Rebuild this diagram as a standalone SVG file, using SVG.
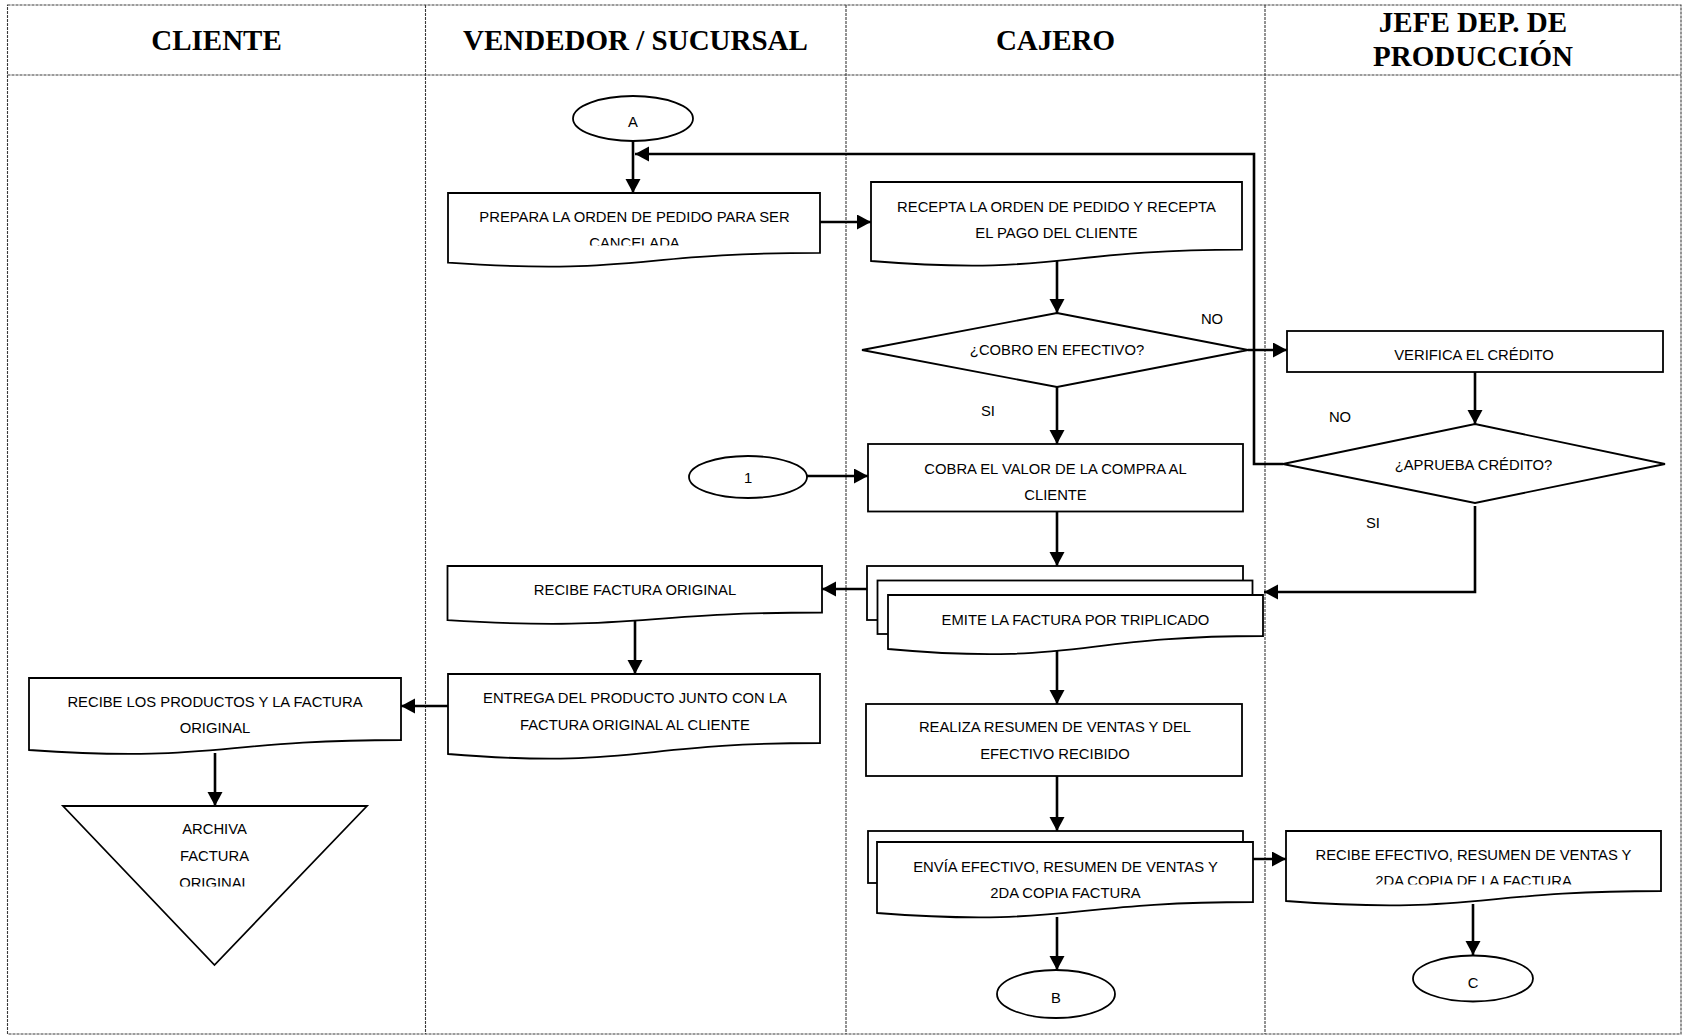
<svg xmlns="http://www.w3.org/2000/svg" width="1685" height="1036" viewBox="0 0 1685 1036">
  <style>
    .lane { fill: none; stroke: #3a3a3a; stroke-width: 1.1; stroke-dasharray: 3 1; }
    .hdr { font-family: "Liberation Serif", "Times New Roman", serif; font-weight: bold; font-size: 29px; fill: #000; text-anchor: middle; }
    .shape { fill: #fff; stroke: #000; stroke-width: 1.8; }
    .txt { font-family: "Liberation Sans", Arial, sans-serif; font-size: 14.8px; fill: #000; text-anchor: middle; }
    .lbl { font-family: "Liberation Sans", Arial, sans-serif; font-size: 14.8px; fill: #000; text-anchor: middle; }
    .conn { fill: none; stroke: #000; stroke-width: 2.6; }
    .arrow { marker-end: url(#head); }
  </style>
  <defs>
    <marker id="head" markerUnits="userSpaceOnUse" markerWidth="15" markerHeight="16" refX="14" refY="7.5" orient="auto">
      <path d="M0,0 L14,7.5 L0,15 Z" fill="#000"/>
    </marker>
    <clipPath id="clipPrepara"><rect x="448" y="193" width="372" height="52.5"/></clipPath>
    <clipPath id="clipArchiva"><rect x="60" y="806" width="310" height="80.5"/></clipPath>
    <clipPath id="clipRecibeEf"><rect x="1286" y="831" width="375" height="53.5"/></clipPath>
  </defs>

  <rect width="1685" height="1036" fill="#fff"/>

  <!-- swimlane table -->
  <g id="lanes">
    <rect class="lane" x="7.5" y="5" width="1673.5" height="1029"/>
    <line class="lane" x1="7.5" y1="75" x2="1681" y2="75"/>
    <line class="lane" x1="425.5" y1="5" x2="425.5" y2="1034"/>
    <line class="lane" x1="846" y1="5" x2="846" y2="1034"/>
    <line class="lane" x1="1265" y1="5" x2="1265" y2="1034"/>
    <text class="hdr" x="216.5" y="50">CLIENTE</text>
    <text class="hdr" x="635.5" y="50">VENDEDOR / SUCURSAL</text>
    <text class="hdr" x="1055.5" y="50">CAJERO</text>
    <text class="hdr" x="1473" y="32">JEFE DEP. DE</text>
    <text class="hdr" x="1473" y="66">PRODUCCIÓN</text>
  </g>

  <!-- connectors -->
  <g id="connectors">
    <line class="conn arrow" x1="633" y1="141" x2="633" y2="193"/>
    <line class="conn arrow" x1="820" y1="222" x2="871" y2="222"/>
    <line class="conn arrow" x1="1057" y1="261" x2="1057" y2="313"/>
    <line class="conn arrow" x1="1248" y1="350" x2="1287" y2="350"/>
    <line class="conn arrow" x1="1475" y1="372" x2="1475" y2="424"/>
    <polyline class="conn arrow" points="1283,464 1254,464 1254,154 635,154"/>
    <polyline class="conn arrow" points="1475,506 1475,592 1264,592"/>
    <line class="conn arrow" x1="1057" y1="387" x2="1057" y2="444"/>
    <line class="conn arrow" x1="807" y1="476" x2="868" y2="476"/>
    <line class="conn arrow" x1="1057" y1="512" x2="1057" y2="566"/>
    <line class="conn arrow" x1="867" y1="589" x2="822" y2="589"/>
    <line class="conn arrow" x1="635" y1="620" x2="635" y2="674"/>
    <line class="conn arrow" x1="448" y1="706" x2="401" y2="706"/>
    <line class="conn arrow" x1="215" y1="753" x2="215" y2="806"/>
    <line class="conn arrow" x1="1057" y1="651" x2="1057" y2="704"/>
    <line class="conn arrow" x1="1057" y1="776" x2="1057" y2="831"/>
    <line class="conn arrow" x1="1253" y1="859" x2="1286" y2="859"/>
    <line class="conn arrow" x1="1057" y1="917" x2="1057" y2="970"/>
    <line class="conn arrow" x1="1473" y1="904" x2="1473" y2="955"/>
    <text class="lbl" x="1212" y="324">NO</text>
    <text class="lbl" x="988" y="416">SI</text>
    <text class="lbl" x="1340" y="422">NO</text>
    <text class="lbl" x="1373" y="528">SI</text>
  </g>

  <!-- VENDEDOR / SUCURSAL lane -->
  <g id="node-a">
    <ellipse class="shape" cx="633" cy="118.5" rx="60" ry="22.5"/>
    <text class="txt" x="633" y="127">A</text>
  </g>
  <g id="node-prepara">
    <path class="shape" d="M448,193 H820 V252.8 C634,252.8 634,275.6 448,262.7 Z"/>
    <g clip-path="url(#clipPrepara)">
      <text class="txt" x="634.5" y="221.5">PREPARA LA ORDEN DE PEDIDO PARA SER</text>
      <text class="txt" x="634.5" y="247.5">CANCELADA</text>
    </g>
  </g>
  <g id="node-1">
    <ellipse class="shape" cx="748" cy="477" rx="59" ry="21"/>
    <text class="txt" x="748" y="482.5">1</text>
  </g>
  <g id="node-recibe-factura">
    <path class="shape" d="M447.5,566 H822 V612.5 C634.7,612.5 634.7,631.5 447.5,620.2 Z"/>
    <text class="txt" x="635" y="595">RECIBE FACTURA ORIGINAL</text>
  </g>
  <g id="node-entrega">
    <path class="shape" d="M448,674 H820 V743 C634,743 634,769 448,754 Z"/>
    <text class="txt" x="635" y="703">ENTREGA DEL PRODUCTO JUNTO CON LA</text>
    <text class="txt" x="635" y="730">FACTURA ORIGINAL AL CLIENTE</text>
  </g>

  <!-- CLIENTE lane -->
  <g id="node-recibe-productos">
    <path class="shape" d="M29,678 H401 V740 C215,740 215,763 29,750 Z"/>
    <text class="txt" x="215" y="707">RECIBE LOS PRODUCTOS Y LA FACTURA</text>
    <text class="txt" x="215" y="733">ORIGINAL</text>
  </g>
  <g id="node-archiva">
    <polygon class="shape" points="63,806 367,806 214.5,965"/>
    <g clip-path="url(#clipArchiva)">
      <text class="txt" x="214.5" y="834">ARCHIVA</text>
      <text class="txt" x="214.5" y="860.5">FACTURA</text>
      <text class="txt" x="214.5" y="887.5">ORIGINAL</text>
    </g>
  </g>

  <!-- CAJERO lane -->
  <g id="node-recepta">
    <path class="shape" d="M871,182 H1242 V249.7 C1056.5,249.7 1056.5,276 871,261 Z"/>
    <text class="txt" x="1056.5" y="212">RECEPTA LA ORDEN DE PEDIDO Y RECEPTA</text>
    <text class="txt" x="1056.5" y="238">EL PAGO DEL CLIENTE</text>
  </g>
  <g id="node-cobro">
    <polygon class="shape" points="1057,313 1248,350 1057,387 862,350"/>
    <text class="txt" x="1057" y="355">¿COBRO EN EFECTIVO?</text>
  </g>
  <g id="node-cobra">
    <rect class="shape" x="868" y="444" width="375" height="67.5"/>
    <text class="txt" x="1055.5" y="473.5">COBRA EL VALOR DE LA COMPRA AL</text>
    <text class="txt" x="1055.5" y="499.5">CLIENTE</text>
  </g>
  <g id="node-emite">
    <rect class="shape" x="867" y="566" width="376" height="54"/>
    <rect class="shape" x="877.5" y="580.5" width="375" height="53.5"/>
    <path class="shape" d="M888,595 H1263 V636 C1075.5,636 1075.5,666 888,649 Z"/>
    <text class="txt" x="1075.5" y="624.5">EMITE LA FACTURA POR TRIPLICADO</text>
  </g>
  <g id="node-realiza">
    <rect class="shape" x="866" y="704" width="376" height="72"/>
    <text class="txt" x="1055" y="732">REALIZA RESUMEN DE VENTAS Y DEL</text>
    <text class="txt" x="1055" y="759">EFECTIVO RECIBIDO</text>
  </g>
  <g id="node-envia">
    <rect class="shape" x="868" y="831" width="375" height="52"/>
    <path class="shape" d="M877,842 H1253 V902 C1065,902 1065,927.4 877,913 Z"/>
    <text class="txt" x="1065.5" y="872">ENVÍA EFECTIVO, RESUMEN DE VENTAS Y</text>
    <text class="txt" x="1065.5" y="897.5">2DA COPIA FACTURA</text>
  </g>
  <g id="node-b">
    <ellipse class="shape" cx="1056" cy="994" rx="59" ry="24"/>
    <text class="txt" x="1056" y="1003">B</text>
  </g>

  <!-- JEFE DEP. DE PRODUCCIÓN lane -->
  <g id="node-verifica">
    <rect class="shape" x="1287" y="331" width="376" height="41"/>
    <text class="txt" x="1474" y="360">VERIFICA EL CRÉDITO</text>
  </g>
  <g id="node-aprueba">
    <polygon class="shape" points="1475,424 1665,464 1475,503 1283,464"/>
    <text class="txt" x="1473.5" y="470">¿APRUEBA CRÉDITO?</text>
  </g>
  <g id="node-recibe-efectivo">
    <path class="shape" d="M1286,831 H1661 V891 C1473.5,891 1473.5,915 1286,901 Z"/>
    <g clip-path="url(#clipRecibeEf)">
      <text class="txt" x="1473.5" y="860">RECIBE EFECTIVO, RESUMEN DE VENTAS Y</text>
      <text class="txt" x="1473.5" y="886">2DA COPIA DE LA FACTURA</text>
    </g>
  </g>
  <g id="node-c">
    <ellipse class="shape" cx="1473" cy="978.5" rx="60" ry="23"/>
    <text class="txt" x="1473" y="988">C</text>
  </g>
</svg>
